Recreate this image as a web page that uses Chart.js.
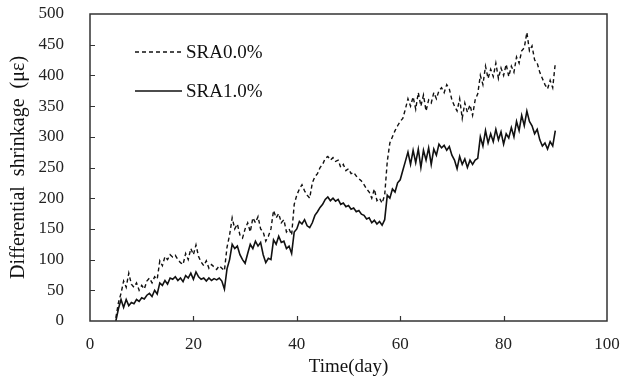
<!DOCTYPE html>
<html>
<head>
<meta charset="utf-8">
<script src="https://cdn.jsdelivr.net/npm/chart.js@4"></script>
<style>
  html, body { margin: 0; padding: 0; background: #fff; }
  #wrap { width: 622px; height: 381px; }
</style>
</head>
<body>
<div id="wrap"><canvas id="chart" width="622" height="381"></canvas></div>
<script>
// time (day), sampled every half day
const days = [
  5, 5.5, 6, 6.5, 7, 7.5, 8, 8.5, 9, 9.5,
  10, 10.5, 11, 11.5, 12, 12.5, 13, 13.5, 14, 14.5,
  15, 15.5, 16, 16.5, 17, 17.5, 18, 18.5, 19, 19.5,
  20, 20.5, 21, 21.5, 22, 22.5, 23, 23.5, 24, 24.5,
  25, 25.5, 26, 26.5, 27, 27.5, 28, 28.5, 29, 29.5,
  30, 30.5, 31, 31.5, 32, 32.5, 33, 33.5, 34, 34.5,
  35, 35.5, 36, 36.5, 37, 37.5, 38, 38.5, 39, 39.5,
  40, 40.5, 41, 41.5, 42, 42.5, 43, 43.5, 44, 44.5,
  45, 45.5, 46, 46.5, 47, 47.5, 48, 48.5, 49, 49.5,
  50, 50.5, 51, 51.5, 52, 52.5, 53, 53.5, 54, 54.5,
  55, 55.5, 56, 56.5, 57, 57.5, 58, 58.5, 59, 59.5,
  60, 60.5, 61, 61.5, 62, 62.5, 63, 63.5, 64, 64.5,
  65, 65.5, 66, 66.5, 67, 67.5, 68, 68.5, 69, 69.5,
  70, 70.5, 71, 71.5, 72, 72.5, 73, 73.5, 74, 74.5,
  75, 75.5, 76, 76.5, 77, 77.5, 78, 78.5, 79, 79.5,
  80, 80.5, 81, 81.5, 82, 82.5, 83, 83.5, 84, 84.5,
  85, 85.5, 86, 86.5, 87, 87.5, 88, 88.5, 89, 89.5,
  90
];

// SRA0.0% (dashed)
const sra0 = [
  5, 30, 45, 65, 55, 78, 60, 55, 62, 50,
  58, 52, 65, 70, 62, 72, 68, 98, 90, 105,
  100, 108, 104, 107, 100, 95, 92, 110, 100, 118,
  108, 124, 105, 96, 90, 98, 86, 92, 88, 84,
  90, 86, 82, 120, 140, 168, 150, 158, 140, 135,
  150, 160, 145, 168, 160, 170, 150, 145, 130, 138,
  150, 180, 168, 175, 160, 165, 145, 150, 140, 190,
  205, 215, 222, 212, 205, 200, 225, 235, 240, 250,
  255, 265, 268, 262, 266, 260, 262, 250, 255, 245,
  248, 240, 242, 236, 232, 228, 222, 215, 210, 200,
  215, 196, 200, 192, 205, 260, 290, 300, 310, 318,
  325, 330, 345, 362, 350, 365, 345, 372, 350, 368,
  342, 360, 355, 372, 362, 375, 380, 372, 385, 378,
  360, 350, 342, 362, 330, 355, 340, 352, 335, 360,
  370, 400, 385, 415, 395, 410, 398, 420, 395, 412,
  400, 418, 398, 415, 405, 430, 420, 440, 445, 470,
  440, 448, 425, 420, 405, 395, 385, 378, 392, 380,
  420
];

// SRA1.0% (solid)
const sra1 = [
  0, 20, 35, 22, 35, 25, 30, 28, 35, 32,
  38, 36, 42, 45, 40, 50, 44, 62, 58, 66,
  60, 70, 68, 72, 66, 70, 64, 74, 70, 78,
  68, 80, 72, 68, 70, 65, 70, 66, 69, 67,
  70, 65, 52, 85, 100, 125, 118, 122, 108, 100,
  94, 110, 125, 118, 130, 122, 128, 108, 95, 102,
  100, 132, 125, 138, 128, 130, 118, 122, 110, 145,
  150, 162, 158, 165, 155, 152, 160, 172, 178, 185,
  190, 198, 202, 196, 200, 195, 198, 190, 192, 186,
  188, 182, 184, 178, 180, 174, 172, 166, 168, 160,
  164, 158, 162, 156, 165, 205, 200, 215, 210, 225,
  230, 245, 260, 275, 255, 278, 258, 280, 250, 278,
  262, 282, 255, 280, 270, 288, 282, 286, 278, 284,
  270, 262, 248, 268, 255, 264, 250, 262, 255, 262,
  265, 300, 285, 310, 290, 305, 292, 312, 295, 308,
  288, 305, 298, 315, 300, 325, 310, 335, 318, 342,
  325, 318, 305, 312, 295, 285, 290, 280, 292, 285,
  310
];

const xTicks = [0, 20, 40, 60, 80, 100];
const yTicks = [0, 50, 100, 150, 200, 250, 300, 350, 400, 450, 500];

const serif = "'Liberation Serif', 'Times New Roman', serif";

// box around the plot plus inward tick marks
const framePlugin = {
  id: 'frame',
  afterDatasetsDraw(chart) {
    const { ctx, chartArea: a, scales } = chart;
    ctx.save();
    ctx.strokeStyle = '#333';
    ctx.lineWidth = 1.5;
    ctx.strokeRect(a.left, a.top, a.right - a.left, a.bottom - a.top);
    ctx.lineWidth = 1.2;
    ctx.beginPath();
    xTicks.slice(1, -1).forEach(v => {
      const px = Math.round(scales.x.getPixelForValue(v)) + 0.5;
      ctx.moveTo(px, a.bottom);
      ctx.lineTo(px, a.bottom - 5);
    });
    yTicks.slice(1, -1).forEach(v => {
      const py = Math.round(scales.y.getPixelForValue(v)) + 0.5;
      ctx.moveTo(a.left, py);
      ctx.lineTo(a.left + 5, py);
    });
    ctx.stroke();
    ctx.restore();
  }
};

// legend drawn inside the plot, top left
const legendPlugin = {
  id: 'innerLegend',
  afterDraw(chart) {
    const { ctx, chartArea: a } = chart;
    const items = [
      { text: 'SRA0.0%', dash: [4, 3], y: a.top + 38 },
      { text: 'SRA1.0%', dash: [], y: a.top + 77 }
    ];
    ctx.save();
    ctx.font = '19px ' + serif;
    ctx.textBaseline = 'middle';
    ctx.fillStyle = '#111';
    items.forEach(it => {
      ctx.strokeStyle = '#111';
      ctx.lineWidth = it.dash.length ? 1.3 : 1.6;
      ctx.setLineDash(it.dash);
      ctx.beginPath();
      ctx.moveTo(a.left + 45, it.y);
      ctx.lineTo(a.left + 92, it.y);
      ctx.stroke();
      ctx.setLineDash([]);
      ctx.fillText(it.text, a.left + 96, it.y + 1);
    });
    ctx.restore();
  }
};

function noPad(s) {
  s.paddingTop = 0;
  s.paddingBottom = 0;
  s.paddingLeft = 0;
  s.paddingRight = 0;
}

new Chart(document.getElementById('chart'), {
  type: 'line',
  data: {
    datasets: [
      {
        label: 'SRA0.0%',
        data: days.map((d, i) => ({ x: d, y: sra0[i] })),
        borderColor: '#111',
        borderWidth: 1.4,
        borderDash: [4, 3],
        pointRadius: 0,
        tension: 0,
        fill: false
      },
      {
        label: 'SRA1.0%',
        data: days.map((d, i) => ({ x: d, y: sra1[i] })),
        borderColor: '#111',
        borderWidth: 1.6,
        pointRadius: 0,
        tension: 0,
        fill: false
      }
    ]
  },
  options: {
    responsive: false,
    devicePixelRatio: 1,
    animation: false,
    layout: { padding: { left: 0, right: 15, top: 14, bottom: 0 } },
    plugins: {
      legend: { display: false },
      tooltip: { enabled: false }
    },
    scales: {
      x: {
        type: 'linear',
        min: 0,
        max: 100,
        afterBuildTicks: s => { s.ticks = xTicks.map(v => ({ value: v })); },
        afterFit: s => { s.height = 60; noPad(s); },
        grid: { display: false },
        border: { display: false },
        ticks: {
          padding: 5,
          color: '#222',
          font: { family: serif, size: 17 }
        },
        title: {
          display: true,
          text: 'Time(day)',
          color: '#111',
          font: { family: serif, size: 19 },
          padding: { top: 0, bottom: 3 }
        }
      },
      y: {
        min: 0,
        max: 500,
        afterBuildTicks: s => { s.ticks = yTicks.map(v => ({ value: v })); },
        afterFit: s => { s.width = 90; noPad(s); },
        grid: { display: false },
        border: { display: false },
        ticks: {
          padding: 18,
          color: '#222',
          font: { family: serif, size: 17 }
        },
        title: {
          display: true,
          text: 'Differential  shrinkage  (με)',
          color: '#111',
          font: { family: serif, size: 20 },
          padding: { top: 7, bottom: 0 }
        }
      }
    }
  },
  plugins: [framePlugin, legendPlugin]
});
</script>
</body>
</html>
